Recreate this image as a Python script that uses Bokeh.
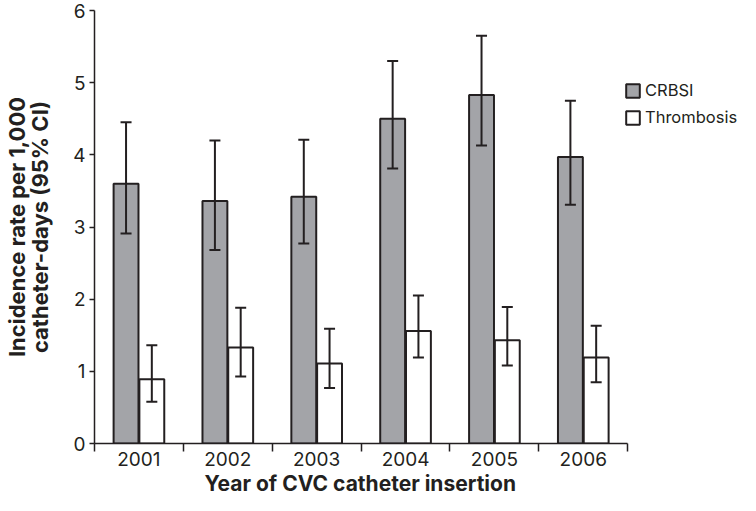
import numpy as np
from bokeh.plotting import figure
from bokeh.models import (ColumnDataSource, Range1d, FixedTicker, Whisker, TeeHead,
                          Legend, LegendItem, Title)
from bokeh.embed import file_html
from bokeh.resources import INLINE

years = ["2001", "2002", "2003", "2004", "2005", "2006"]
crbsi = [3.60, 3.36, 3.42, 4.50, 4.83, 3.97]
crbsi_lo = [2.91, 2.68, 2.77, 3.81, 4.13, 3.31]
crbsi_hi = [4.45, 4.20, 4.21, 5.30, 5.65, 4.75]
thromb = [0.89, 1.33, 1.11, 1.56, 1.43, 1.19]
thromb_lo = [0.58, 0.93, 0.77, 1.19, 1.08, 0.85]
thromb_hi = [1.36, 1.88, 1.59, 2.05, 1.89, 1.63]
y_ticks = [0, 1, 2, 3, 4, 5, 6]

FONT = "Inter"
INK = "#231f20"
GRAY = "#a3a4a8"

n = len(years)
idx = np.arange(n) + 0.5
off = 0.145
bw = 0.28

src_c = ColumnDataSource(dict(x=idx - off, top=crbsi, lo=crbsi_lo, hi=crbsi_hi))
src_t = ColumnDataSource(dict(x=idx + off, top=thromb, lo=thromb_lo, hi=thromb_hi))

W, H = 740, 495
LEFT = 87
# frame extends to the right edge so the legend can sit there; the axis ends at n
x_end = n * (W - LEFT) / 539.0

p = figure(width=W, height=H, output_backend="svg", toolbar_location=None,
           x_range=Range1d(0, x_end), y_range=Range1d(0, 6),
           min_border_left=LEFT, min_border_right=0, min_border_top=10, min_border_bottom=0)
p.outline_line_color = None
p.grid.visible = False
p.background_fill_color = "white"
p.border_fill_color = "white"

rc = p.vbar(x="x", top="top", width=bw, bottom=0, source=src_c,
            fill_color=GRAY, line_color=INK, line_width=2)
rt = p.vbar(x="x", top="top", width=bw, bottom=0, source=src_t,
            fill_color="white", line_color=INK, line_width=2)

for s in (src_c, src_t):
    w = Whisker(base="x", lower="lo", upper="hi", source=s, line_color=INK, line_width=2,
                level="annotation",
                upper_head=TeeHead(size=11, line_color=INK, line_width=2),
                lower_head=TeeHead(size=11, line_color=INK, line_width=2))
    p.add_layout(w)

# x axis: year labels at the centres, tick marks at the boundaries
xa = p.xaxis[0]
xa.bounds = (0, n)
xa.ticker = FixedTicker(ticks=list(idx), minor_ticks=list(range(n + 1)))
xa.major_label_overrides = {float(v): y for v, y in zip(idx, years)}
xa.major_tick_out = 0
xa.major_tick_in = 0
xa.minor_tick_out = 0
xa.minor_tick_in = -8
xa.minor_tick_line_color = INK
xa.minor_tick_line_width = 1.5
xa.axis_line_color = INK
xa.axis_line_width = 1.5
xa.major_label_text_font = FONT
xa.major_label_text_font_size = "19px"
xa.major_label_text_color = INK
xa.major_label_standoff = 8

# y axis
ya = p.yaxis[0]
ya.ticker = FixedTicker(ticks=y_ticks)
ya.minor_tick_line_color = None
ya.major_tick_out = 5
ya.major_tick_in = 0
ya.major_tick_line_color = INK
ya.major_tick_line_width = 1.5
ya.axis_line_color = INK
ya.axis_line_width = 1.5
ya.major_label_text_font = FONT
ya.major_label_text_font_size = "19px"
ya.major_label_text_color = INK
ya.major_label_standoff = 4
ya.axis_label = "Incidence rate per 1,000\ncatheter-days (95% CI)"
ya.axis_label_text_font = FONT
ya.axis_label_text_font_style = "bold"
ya.axis_label_text_font_size = "22px"
ya.axis_label_text_color = INK
ya.axis_label_text_line_height = 0.9
ya.axis_label_standoff = 17

xt = Title(text="Year of CVC catheter insertion", align="left", offset=110,
           standoff=0, text_font=FONT, text_font_style="bold", text_font_size="21px",
           text_color=INK)
p.add_layout(xt, "below")

legend = Legend(items=[LegendItem(label="CRBSI", renderers=[rc]),
                       LegendItem(label="Thrombosis", renderers=[rt])],
                location=(530, 316), orientation="vertical",
                glyph_width=17, glyph_height=17, label_height=19, label_standoff=4,
                spacing=7, padding=0, margin=0,
                border_line_color=None, background_fill_alpha=0,
                label_text_font=FONT, label_text_font_size="16.5px",
                label_text_color=INK)
p.add_layout(legend, "center")

open("out.html", "w").write(file_html(p, INLINE))
